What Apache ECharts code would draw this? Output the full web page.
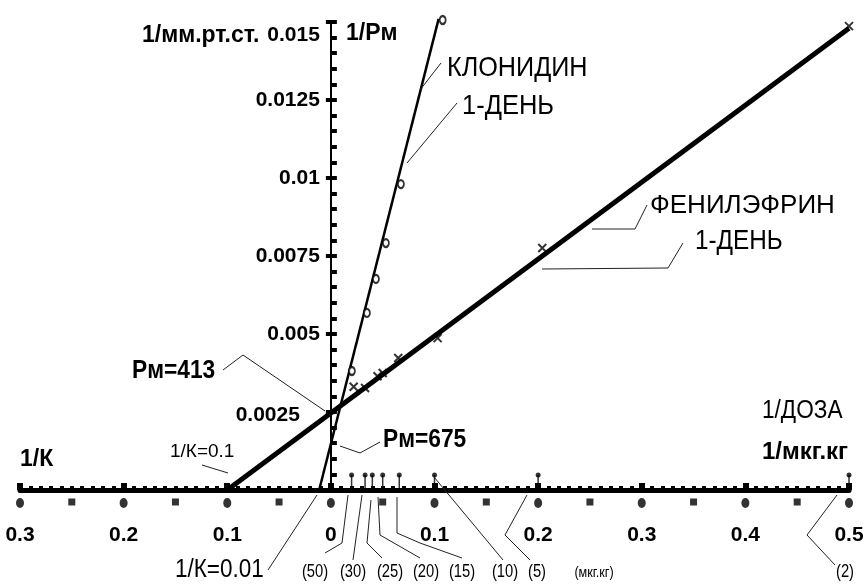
<!DOCTYPE html>
<html>
<head>
<meta charset="utf-8">
<script src="https://cdn.jsdelivr.net/npm/echarts@6/dist/echarts.min.js"></script>
<style>
html,body{margin:0;padding:0;background:#fff;}
#chart{width:864px;height:588px;}
</style>
</head>
<body>
<div id="chart"></div>
<script>
// ---- data ----
const xMajorTicks = [-0.3, -0.2, -0.1, 0, 0.1, 0.2, 0.3, 0.4, 0.5];
const xHalfTicks = [-0.25, -0.15, -0.05, 0.05, 0.15, 0.25, 0.35, 0.45];
const yTickLabels = ['0.0025', '0.005', '0.0075', '0.01', '0.0125', '0.015'];
const doseLabels = ['(50)', '(30)', '(25)', '(20)', '(15)', '(10)', '(5)', '(2)'];
const doseInv = [0.02, 0.033, 0.04, 0.05, 0.066, 0.1, 0.2, 0.5];

const clonidineX = [0.0174, 0.0319, 0.0406, 0.0502, 0.0647, 0.105];
const clonidineY = [0.00375, 0.00561, 0.0067, 0.00785, 0.00974, 0.0150];
const clonidineFitX = [-0.0113, 0.104];
const clonidineFitY = [0, 0.0151];

const phenylX = [0.5, 0.204, 0.103, 0.065, 0.05, 0.045, 0.033, 0.022];
const phenylY = [0.01474, 0.00763, 0.00474, 0.0041, 0.00362, 0.00352, 0.00314, 0.00318];
const phenylFitX = [-0.1, 0.5];
const phenylFitY = [0, 0.0148];

// ---- build ----
const FONT = "'Liberation Sans Narrow','Arial Narrow','Liberation Sans',Arial,sans-serif";
const zip = (a, b) => a.map((v, i) => [v, b[i]]);

const W = 864, GRID_L = 20, GRID_R = 15;
const X_MIN = -0.3, X_MAX = 0.5;
const gridW = W - GRID_L - GRID_R;
const yAxisShift = -((0 - X_MIN) / (X_MAX - X_MIN)) * gridW;

const chart = echarts.init(document.getElementById('chart'), null, {renderer: 'canvas'});

function txt(text, x, y, size, weight, align, sx) {
  return {
    type: 'text', z: 100, x: x, y: y, scaleX: sx || 1, scaleY: 1,
    style: {
      text: text, x: 0, y: 0,
      font: (weight || 'normal') + ' ' + size + 'px ' + FONT,
      fill: '#000', align: align || 'left', verticalAlign: 'middle'
    }
  };
}
function pl(points) {
  return {
    type: 'polyline', z: 99,
    shape: {points: points},
    style: {stroke: '#222', lineWidth: 1, fill: null}
  };
}

const graphics = [
  txt('1/мм.рт.ст.', 142, 36, 23, 'bold'),
  txt('1/Рм', 346, 34, 23, 'bold'),
  txt('КЛОНИДИН', 447, 68, 28, 'normal', 'left', 0.9),
  txt('1-ДЕНЬ', 462, 106, 28, 'normal', 'left', 0.91),
  txt('ФЕНИЛЭФРИН', 650, 206, 26),
  txt('1-ДЕНЬ', 695, 242, 27, 'normal', 'left', 0.9),
  txt('Рм=413', 132, 371, 25, 'bold', 'left', 0.91),
  txt('Рм=675', 383, 440, 25, 'bold', 'left', 0.91),
  txt('1/К=0.1', 170, 452, 19),
  txt('1/К', 20, 460, 23, 'bold'),
  txt('1/ДОЗА', 762, 411, 26, 'normal', 'left', 0.87),
  txt('1/мкг.кг', 762, 452, 24, 'bold'),
  txt('1/К=0.01', 175, 570, 25, 'normal', 'left', 0.9),
  txt(doseLabels[0], 315, 572, 18, 'normal', 'center', 0.82),
  txt(doseLabels[1], 353, 572, 18, 'normal', 'center', 0.82),
  txt(doseLabels[2], 390, 572, 18, 'normal', 'center', 0.82),
  txt(doseLabels[3], 426, 572, 18, 'normal', 'center', 0.82),
  txt(doseLabels[4], 462, 572, 18, 'normal', 'center', 0.82),
  txt(doseLabels[5], 505, 572, 18, 'normal', 'center', 0.82),
  txt(doseLabels[6], 537, 572, 18, 'normal', 'center', 0.82),
  txt('(мкг.кг)', 594, 573, 14, 'normal', 'center', 0.9),
  txt(doseLabels[7], 845, 572, 18, 'normal', 'center', 0.82),
  // leaders
  pl([[441, 63], [420, 90]]),
  pl([[457, 103], [432, 133], [407, 163]]),
  pl([[647, 205], [635, 229], [592, 229]]),
  pl([[683, 243], [668, 268], [542, 269]]),
  pl([[223, 370], [243, 355], [325, 411]]),
  pl([[380, 442], [360, 453], [340, 446]]),
  pl([[202, 465], [228, 473]]),
  pl([[268, 570], [317, 495]]),
  pl([[325, 553], [342, 543], [348, 495]]),
  pl([[353, 560], [362, 495]]),
  pl([[382, 558], [367, 543], [371, 500]]),
  pl([[420, 558], [380, 535], [378, 497]]),
  pl([[462, 558], [420, 543], [397, 533], [397, 497]]),
  pl([[434, 477], [503, 560]]),
  pl([[527, 495], [505, 535], [530, 560]]),
  pl([[837, 495], [807, 535], [835, 565]])
];

const option = {
  backgroundColor: '#fff',
  animation: false,
  grid: {left: GRID_L, right: GRID_R, top: 22, bottom: 98, containLabel: false, outerBoundsMode: 'none'},
  xAxis: [{
    type: 'value', min: X_MIN, max: X_MAX, interval: 0.1, position: 'bottom',
    axisLine: {show: true, onZero: false, lineStyle: {color: '#000', width: 5}},
    axisTick: {show: true, inside: true, length: 7, lineStyle: {color: '#000', width: 6}},
    axisLabel: {
      margin: 35, color: '#000', fontFamily: FONT, fontSize: 21, fontWeight: 'bold',
      formatter: v => String(Math.abs(+(+v).toFixed(2)))
    },
    splitLine: {show: false}
  }, {
    type: 'value', min: X_MIN, max: X_MAX, interval: 0.01, position: 'bottom',
    axisLine: {show: false, onZero: false},
    axisTick: {show: true, inside: true, length: 4, lineStyle: {color: '#000', width: 4}},
    axisLabel: {show: false},
    splitLine: {show: false}
  }],
  yAxis: [{
    type: 'value', min: 0, max: 0.015, interval: 0.0025, position: 'left', offset: yAxisShift,
    axisLine: {show: true, onZero: false, lineStyle: {color: '#000', width: 2}},
    axisTick: {show: true, length: 5, lineStyle: {color: '#000', width: 4}},
    axisLabel: {
      margin: 11, color: '#000', fontFamily: FONT, fontSize: 21, fontWeight: 'bold',
      formatter: v => {
        const s = String(+(+v).toFixed(4));
        if (+v === 0) return '';
        if (yTickLabels.indexOf(s) < 0) return '';
        if (+v >= 0.015) return '{t|' + s + '}';
        if (s === '0.0025') return '{s|' + s + '}';
        return s;
      },
      rich: {
        t: {padding: [26, 0, 0, 0], fontFamily: FONT, fontSize: 21, fontWeight: 'bold', color: '#000'},
        s: {padding: [6, 20, 0, 0], fontFamily: FONT, fontSize: 21, fontWeight: 'bold', color: '#000'}
      }
    },
    splitLine: {show: false}
  }, {
    type: 'value', min: 0, max: 0.015, interval: 0.0005, position: 'left', offset: yAxisShift,
    axisLine: {show: false, onZero: false},
    axisTick: {show: true, inside: true, length: 6, lineStyle: {color: '#000', width: 4}},
    axisLabel: {show: false},
    splitLine: {show: false}
  }],
  series: [
    {
      type: 'line', data: zip(phenylFitX, phenylFitY), showSymbol: false, clip: false,
      lineStyle: {color: '#000', width: 5}, z: 5
    },
    {
      type: 'line', data: zip(clonidineFitX, clonidineFitY), showSymbol: false, clip: false,
      lineStyle: {color: '#000', width: 2.5}, z: 5
    },
    {
      type: 'scatter', data: zip(clonidineX, clonidineY), clip: false,
      symbol: 'emptyCircle', symbolSize: [6, 8], symbolOffset: [3, -2],
      itemStyle: {color: '#000', borderColor: '#000', borderWidth: 1.8}, z: 6
    },
    {
      type: 'scatter', data: zip(phenylX, phenylY), clip: false,
      symbol: 'path://M0,0L10,10M10,0L0,10', symbolSize: 8, symbolOffset: [0, -4],
      itemStyle: {color: 'rgba(0,0,0,0)', borderColor: '#000', borderWidth: 2}, z: 6
    },
    {
      type: 'scatter', data: xMajorTicks.map(v => [v, 0]), clip: false,
      symbol: 'circle', symbolSize: [8, 10], symbolOffset: [0, 13],
      itemStyle: {color: '#000'}, z: 4
    },
    {
      type: 'scatter', data: xHalfTicks.map(v => [v, 0]), clip: false,
      symbol: 'rect', symbolSize: [7, 7], symbolOffset: [0, 12],
      itemStyle: {color: '#000'}, z: 4
    },
    {
      type: 'scatter', data: doseInv.map(v => [v, 0]), clip: false,
      symbol: 'rect', symbolSize: [1.5, 14], symbolOffset: [0, -8],
      itemStyle: {color: '#000'}, z: 4
    },
    {
      type: 'scatter', data: doseInv.map(v => [v, 0]), clip: false,
      symbol: 'circle', symbolSize: 5, symbolOffset: [0, -15],
      itemStyle: {color: '#000'}, z: 4
    }
  ],
  graphic: graphics
};
chart.setOption(option);
</script>
</body>
</html>
